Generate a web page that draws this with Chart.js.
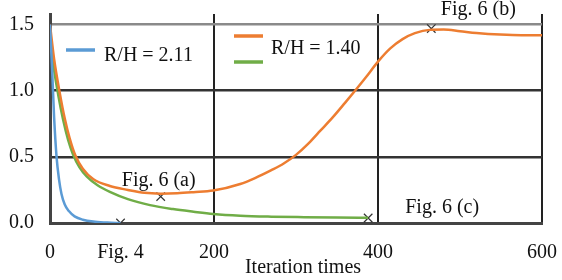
<!DOCTYPE html>
<html><head><meta charset="utf-8">
<script src="https://cdn.jsdelivr.net/npm/chart.js@4/dist/chart.umd.min.js"></script>
<style>html,body{margin:0;padding:0;background:#fff}#wrap{width:562px;height:280px}</style>
</head><body><div id="wrap"><canvas id="c" width="562" height="280"></canvas></div>
<script>
// ---- data ----
const xTicks = [0, 200, 400, 600];
const yTicks = [0, 0.5, 1.0, 1.5];
const blueX = [0, 3, 5, 8, 11, 14, 18, 23, 30, 40, 55, 70, 86];
const blueY = [1.5, 1.1, 0.8, 0.5, 0.33, 0.22, 0.14, 0.09, 0.05, 0.025, 0.01, 0.003, 0];
const greenX = [0, 4, 10, 16, 22, 28, 36, 45, 58, 73, 95, 122, 150, 175, 199, 232, 270, 310, 350, 388];
const greenY = [1.42, 1.2, 0.97, 0.78, 0.63, 0.52, 0.42, 0.35, 0.285, 0.235, 0.18, 0.135, 0.105, 0.085, 0.068, 0.055, 0.048, 0.044, 0.041, 0.039];
const orangeX = [0, 5, 12, 18, 24, 31, 40, 53, 73, 95, 115, 135, 155, 175, 199, 232, 250, 270, 285, 300, 315, 330, 345, 360, 372, 385, 400, 415, 430, 445, 463, 480, 500, 520, 549, 575, 600];
const orangeY = [1.5, 1.24, 0.98, 0.79, 0.64, 0.51, 0.41, 0.33, 0.28, 0.25, 0.228, 0.222, 0.225, 0.233, 0.245, 0.295, 0.34, 0.4, 0.45, 0.515, 0.6, 0.7, 0.8, 0.91, 1.0, 1.1, 1.22, 1.32, 1.39, 1.435, 1.46, 1.462, 1.45, 1.437, 1.425, 1.42, 1.42];
const markerX = [86, 135, 388, 465];
const markerY = [0, 0.2, 0.038, 1.47];
const noteLabels = ['Fig. 4', 'Fig. 6 (a)', 'Fig. 6 (c)', 'Fig. 6 (b)'];
const legendLabels = ['R/H = 2.11', 'R/H = 1.40'];
const xTitle = 'Iteration times';

// ---- styles ----
const BLUE = '#5B9BD5', ORANGE = '#ED7D31', GREEN = '#70AD47';
const FONT = "'Liberation Serif', 'DejaVu Serif', serif";
const pts = (xs, ys) => xs.map((x, i) => ({x, y: ys[i]}));
const lineDs = (label, xs, ys, color) => ({
  label, data: pts(xs, ys), borderColor: color, backgroundColor: color,
  borderWidth: 2.5, pointRadius: 0, cubicInterpolationMode: 'monotone', fill: false
});

const notesPlugin = {
  id: 'notes',
  afterDatasetsDraw(chart) {
    const ctx = chart.ctx, xs = chart.scales.x, ys = chart.scales.y, a = chart.chartArea;
    ctx.save();
    ctx.font = '20px ' + FONT;
    ctx.fillStyle = '#111';
    ctx.textAlign = 'center';
    ctx.textBaseline = 'middle';
    const off = [[0, 30], [-2, -16], [74, -10], [47, -19]];
    noteLabels.forEach((t, i) => {
      const px = xs.getPixelForValue(markerX[i]), py = ys.getPixelForValue(markerY[i]);
      ctx.fillText(t, px + off[i][0], py + off[i][1]);
    });
    // axis title
    ctx.fillText(xTitle, (a.left + a.right) / 2 + 7, a.bottom + 45);
    // legend
    ctx.lineWidth = 3.5;
    const seg = (x0, y, c) => { ctx.strokeStyle = c; ctx.beginPath(); ctx.moveTo(a.left + x0, a.top + y); ctx.lineTo(a.left + x0 + 29, a.top + y); ctx.stroke(); };
    seg(16, 36, BLUE);
    seg(184, 22, ORANGE);
    seg(184, 48, GREEN);
    ctx.textAlign = 'left';
    ctx.fillText(legendLabels[0], a.left + 54, a.top + 42);
    ctx.fillText(legendLabels[1], a.left + 221, a.top + 35);
    ctx.restore();
  }
};

new Chart(document.getElementById('c'), {
  type: 'line',
  data: {
    datasets: [
      lineDs(legendLabels[0], blueX, blueY, BLUE),
      lineDs(legendLabels[1], orangeX, orangeY, ORANGE),
      lineDs(legendLabels[1], greenX, greenY, GREEN),
      { type: 'scatter', label: 'marks', data: pts(markerX, markerY), pointStyle: 'crossRot',
        pointRadius: 6, borderColor: '#333', backgroundColor: '#333', pointBorderWidth: 1.2, showLine: false }
    ]
  },
  options: {
    responsive: false, animation: false, devicePixelRatio: 1,
    layout: { padding: { top: 14, right: 20, left: 0, bottom: 0 } },
    plugins: { legend: { display: false }, tooltip: { enabled: false } },
    scales: {
      x: {
        type: 'linear', min: 0, max: 600,
        afterBuildTicks: s => { s.ticks = xTicks.map(v => ({value: v})); },
        afterFit: s => { s.height = 57; s.paddingLeft = 0; s.paddingRight = 0; },
        grid: { color: '#222', lineWidth: 2, drawTicks: false },
        border: { color: '#444', width: 3 },
        ticks: { padding: 18, color: '#111', font: { family: FONT, size: 20 }, maxRotation: 0 },
        title: { display: false }
      },
      y: {
        min: 0, max: 1.58,
        afterBuildTicks: s => { s.ticks = yTicks.map(v => ({value: v})); },
        afterFit: s => { s.width = 50; s.paddingTop = 0; s.paddingBottom = 0; },
        grid: { color: ctx => ctx.tick && ctx.tick.value === 1.5 ? '#8a8a8a' : '#333', lineWidth: 2.5, drawTicks: false },
        border: { color: '#444', width: 3 },
        ticks: { padding: 16, color: '#111', font: { family: FONT, size: 20 }, callback: v => v.toFixed(1) }
      }
    }
  },
  plugins: [notesPlugin]
});
</script></body></html>
